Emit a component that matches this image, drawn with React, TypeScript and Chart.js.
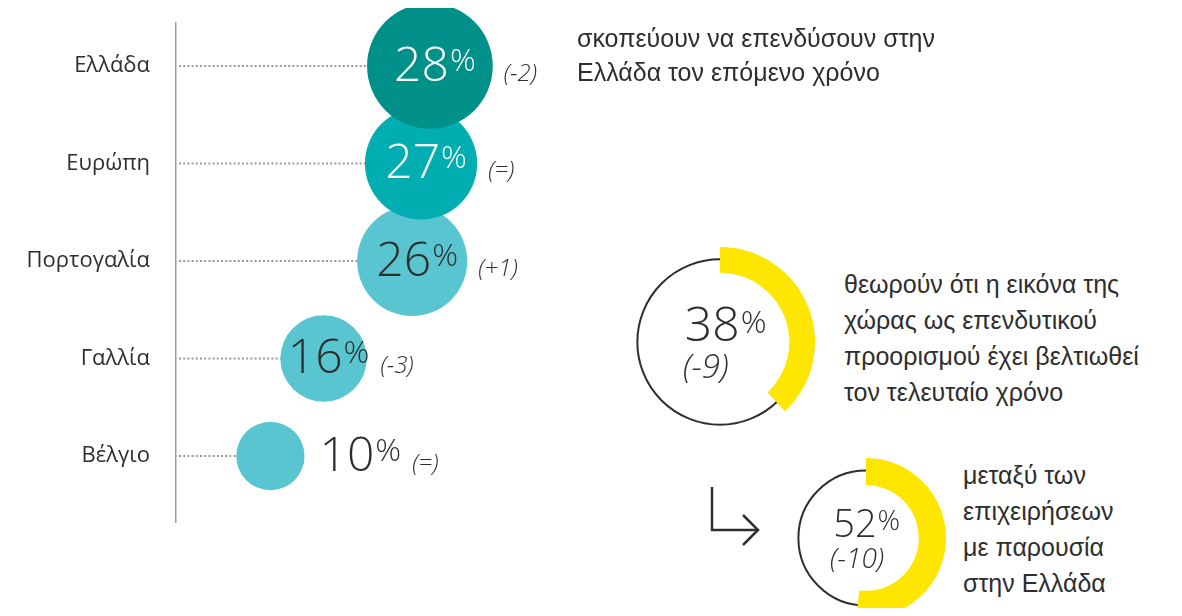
import React, { useEffect, useRef } from 'react';
import { Chart, registerables } from 'chart.js';

Chart.register(...registerables);

// ---------- data ----------
const categories = ['Ελλάδα', 'Ευρώπη', 'Πορτογαλία', 'Γαλλία', 'Βέλγιο'];
const shares = [28, 27, 26, 16, 10];
const changes = ['(-2)', '(=)', '(+1)', '(-3)', '(=)'];
const investNote = ['σκοπεύουν να επενδύσουν στην', 'Ελλάδα τον επόμενο χρόνο'];

const imageShare = 38;
const imageChange = '(-9)';
const imageNote = ['θεωρούν ότι η εικόνα της', 'χώρας ως επενδυτικού', 'προορισμού έχει βελτιωθεί', 'τον τελευταίο χρόνο'];

const presenceShare = 52;
const presenceChange = '(-10)';
const presenceNote = ['μεταξύ των', 'επιχειρήσεων', 'με παρουσία', 'στην Ελλάδα'];

// ---------- styles ----------
const NUM_FONT = "'Open Sans', 'Noto Sans', sans-serif";
const LABEL_FONT = "'Open Sans', 'Noto Sans', sans-serif";
const TEXT_FONT = "'Liberation Sans', Arial, sans-serif";
const TEXT = '#2e2e2e';
const YELLOW = '#FFE600';
const bubbleFill = ['#00908A', '#00AEB1', '#58C5D1', '#58C5D1', '#58C5D1'];
const bubbleText = ['#ffffff', '#ffffff', TEXT, TEXT, TEXT];

function bubbleRadius(v: number, i: number) {
  return 10.8 * Math.sqrt(v) * (i === 0 ? 1.1 : 1);
}

function drawPercent(
  ctx: CanvasRenderingContext2D,
  value: number,
  x: number,
  baseline: number,
  numSize: number,
  pctSize: number,
  pctRaise: number,
  color: string,
  measureOnly = false
) {
  ctx.font = `300 ${numSize}px ${NUM_FONT}`;
  const nw = ctx.measureText(String(value)).width;
  ctx.font = `300 ${pctSize}px ${NUM_FONT}`;
  const pw = ctx.measureText('%').width;
  if (!measureOnly) {
    ctx.fillStyle = color;
    ctx.textAlign = 'left';
    ctx.textBaseline = 'alphabetic';
    ctx.font = `300 ${numSize}px ${NUM_FONT}`;
    ctx.fillText(String(value), x, baseline);
    ctx.font = `300 ${pctSize}px ${NUM_FONT}`;
    ctx.fillText('%', x + nw + 1, baseline - pctRaise);
  }
  return nw + 1 + pw;
}

const bubblePlugin = {
  id: 'bubbleDecor',
  beforeDatasetsDraw(chart: any) {
    const ctx = chart.ctx as CanvasRenderingContext2D;
    const left = chart.chartArea.left;
    ctx.save();
    ctx.setLineDash([2, 2.2]);
    ctx.strokeStyle = '#9a9a9a';
    ctx.lineWidth = 2;
    categories.forEach((_, i) => {
      const el = chart.getDatasetMeta(i).data[0];
      ctx.beginPath();
      ctx.moveTo(left + 3, el.y);
      ctx.lineTo(el.x, el.y);
      ctx.stroke();
    });
    ctx.restore();
  },
  afterDatasetsDraw(chart: any) {
    const ctx = chart.ctx as CanvasRenderingContext2D;
    ctx.save();
    categories.forEach((_, i) => {
      const el = chart.getDatasetMeta(i).data[0];
      const r = el.options.radius;
      const cx = el.x;
      const cy = el.y;
      const w = drawPercent(ctx, shares[i], 0, 0, 48, 32, 10, '', true);
      const inside = r > 38;
      const x0 = inside ? cx + 5 - w / 2 : cx + r + 15;
      drawPercent(ctx, shares[i], x0, cy + 15, 48, 32, 10, inside ? bubbleText[i] : TEXT);
      const dx = Math.max(cx + r, x0 + w) + 11;
      ctx.font = `italic 300 24px ${NUM_FONT}`;
      ctx.fillStyle = TEXT;
      ctx.textAlign = 'left';
      ctx.fillText(changes[i], dx, cy + 15);
    });
    ctx.restore();
  },
};

function bubbleConfig(): any {
  return {
    type: 'bubble',
    data: {
      datasets: categories.map((c, i) => ({
        label: c,
        data: [{ x: shares[i], y: i }],
        backgroundColor: bubbleFill[i],
        borderWidth: 0,
        radius: bubbleRadius(shares[i], i),
        hoverRadius: 0,
        clip: false,
      })),
    },
    options: {
      responsive: false,
      animation: false,
      events: [],
      layout: { autoPadding: false, padding: { top: 23, bottom: 16, left: 0, right: 0 } },
      plugins: { legend: { display: false }, tooltip: { enabled: false } },
      scales: {
        x: { type: 'linear', display: false, min: -0.655, max: 44.94 },
        y: {
          type: 'linear',
          reverse: true,
          min: -0.441,
          max: 4.677,
          afterBuildTicks: (s: any) => {
            s.ticks = categories.map((_, i) => ({ value: i }));
          },
          afterFit: (s: any) => {
            s.width = 168;
            s.paddingTop = 0;
            s.paddingBottom = 0;
          },
          grid: { display: false, drawTicks: false },
          border: { display: true, color: '#9b9b9b', width: 1.5 },
          ticks: {
            autoSkip: false,
            padding: 26,
            color: TEXT,
            font: { family: LABEL_FONT, size: 22 },
            callback: (v: any) => categories[v] ?? '',
          },
        },
      },
    },
    plugins: [bubblePlugin],
  };
}

type RingStyle = {
  cutout: string;
  thin: number;
  numSize: number;
  pctSize: number;
  pctRaise: number;
  deltaSize: number;
  numLeft: number;
  deltaLeft: number;
  numBase: number;
  deltaBase: number;
};

function ringConfig(value: number, change: string, st: RingStyle): any {
  const plugin = {
    id: 'ringDecor',
    beforeDatasetsDraw(chart: any) {
      const arc = chart.getDatasetMeta(0).data[0];
      const ctx = chart.ctx as CanvasRenderingContext2D;
      ctx.save();
      ctx.beginPath();
      ctx.arc(arc.x, arc.y, arc.outerRadius * st.thin, 0, Math.PI * 2);
      ctx.lineWidth = 2;
      ctx.strokeStyle = TEXT;
      ctx.stroke();
      ctx.restore();
    },
    afterDatasetsDraw(chart: any) {
      const arc = chart.getDatasetMeta(0).data[0];
      const ctx = chart.ctx as CanvasRenderingContext2D;
      const R = arc.outerRadius;
      ctx.save();
      drawPercent(ctx, value, arc.x - st.numLeft * R, arc.y + st.numBase, st.numSize, st.pctSize, st.pctRaise, TEXT);
      ctx.font = `italic 300 ${st.deltaSize}px ${NUM_FONT}`;
      ctx.fillStyle = TEXT;
      ctx.textAlign = 'left';
      ctx.fillText(change, arc.x - st.deltaLeft * R, arc.y + st.deltaBase);
      ctx.restore();
    },
  };
  return {
    type: 'doughnut',
    data: {
      labels: ['share', 'rest'],
      datasets: [
        {
          data: [value, 100 - value],
          backgroundColor: [YELLOW, 'rgba(0,0,0,0)'],
          borderWidth: 0,
        },
      ],
    },
    options: {
      responsive: false,
      animation: false,
      events: [],
      cutout: st.cutout,
      layout: { padding: 0 },
      plugins: { legend: { display: false }, tooltip: { enabled: false } },
    },
    plugins: [plugin],
  };
}

const textBlock = (lines: string[], left: number, top: number, lh: number) => (
  <div
    style={{
      position: 'absolute',
      left,
      top,
      fontFamily: TEXT_FONT,
      fontSize: 25,
      lineHeight: `${lh}px`,
      color: TEXT,
      whiteSpace: 'nowrap',
    }}
  >
    {lines.map((l, i) => (
      <div key={i}>{l}</div>
    ))}
  </div>
);

export default function App() {
  const bubbleRef = useRef<HTMLCanvasElement>(null);
  const ring1Ref = useRef<HTMLCanvasElement>(null);
  const ring2Ref = useRef<HTMLCanvasElement>(null);

  useEffect(() => {
    const charts = [
      new Chart(bubbleRef.current as HTMLCanvasElement, bubbleConfig()),
      new Chart(
        ring1Ref.current as HTMLCanvasElement,
        ringConfig(imageShare, imageChange, {
          cutout: '73%',
          thin: 0.87,
          numSize: 48,
          pctSize: 32,
          pctRaise: 8,
          deltaSize: 33,
          numLeft: 0.37,
          deltaLeft: 0.39,
          numBase: -1,
          deltaBase: 36,
        })
      ),
      new Chart(
        ring2Ref.current as HTMLCanvasElement,
        ringConfig(presenceShare, presenceChange, {
          cutout: '66%',
          thin: 0.845,
          numSize: 38,
          pctSize: 28,
          pctRaise: 7,
          deltaSize: 28,
          numLeft: 0.41,
          deltaLeft: 0.45,
          numBase: -1,
          deltaBase: 30,
        })
      ),
    ];
    return () => charts.forEach((c) => c.destroy());
  }, []);

  return (
    <div style={{ position: 'relative', marginTop: -8, width: 1166, height: 608, overflow: 'hidden' }}>
      <canvas ref={bubbleRef} width={572} height={538} style={{ position: 'absolute', left: 0, top: 0 }} />
      <canvas ref={ring1Ref} width={190} height={190} style={{ position: 'absolute', left: 617, top: 247 }} />
      <canvas ref={ring2Ref} width={160} height={160} style={{ position: 'absolute', left: 778, top: 458 }} />
      {textBlock(investNote, 569, 21, 34)}
      {textBlock(imageNote, 836, 266, 36)}
      {textBlock(presenceNote, 955, 457, 36)}
      <svg width={70} height={80} style={{ position: 'absolute', left: 692, top: 475 }}>
        <polyline points="12,12 12,55 58,55" fill="none" stroke={TEXT} strokeWidth={2.5} />
        <polyline points="43,40 58,55 43,70" fill="none" stroke={TEXT} strokeWidth={2.5} />
      </svg>
    </div>
  );
}
